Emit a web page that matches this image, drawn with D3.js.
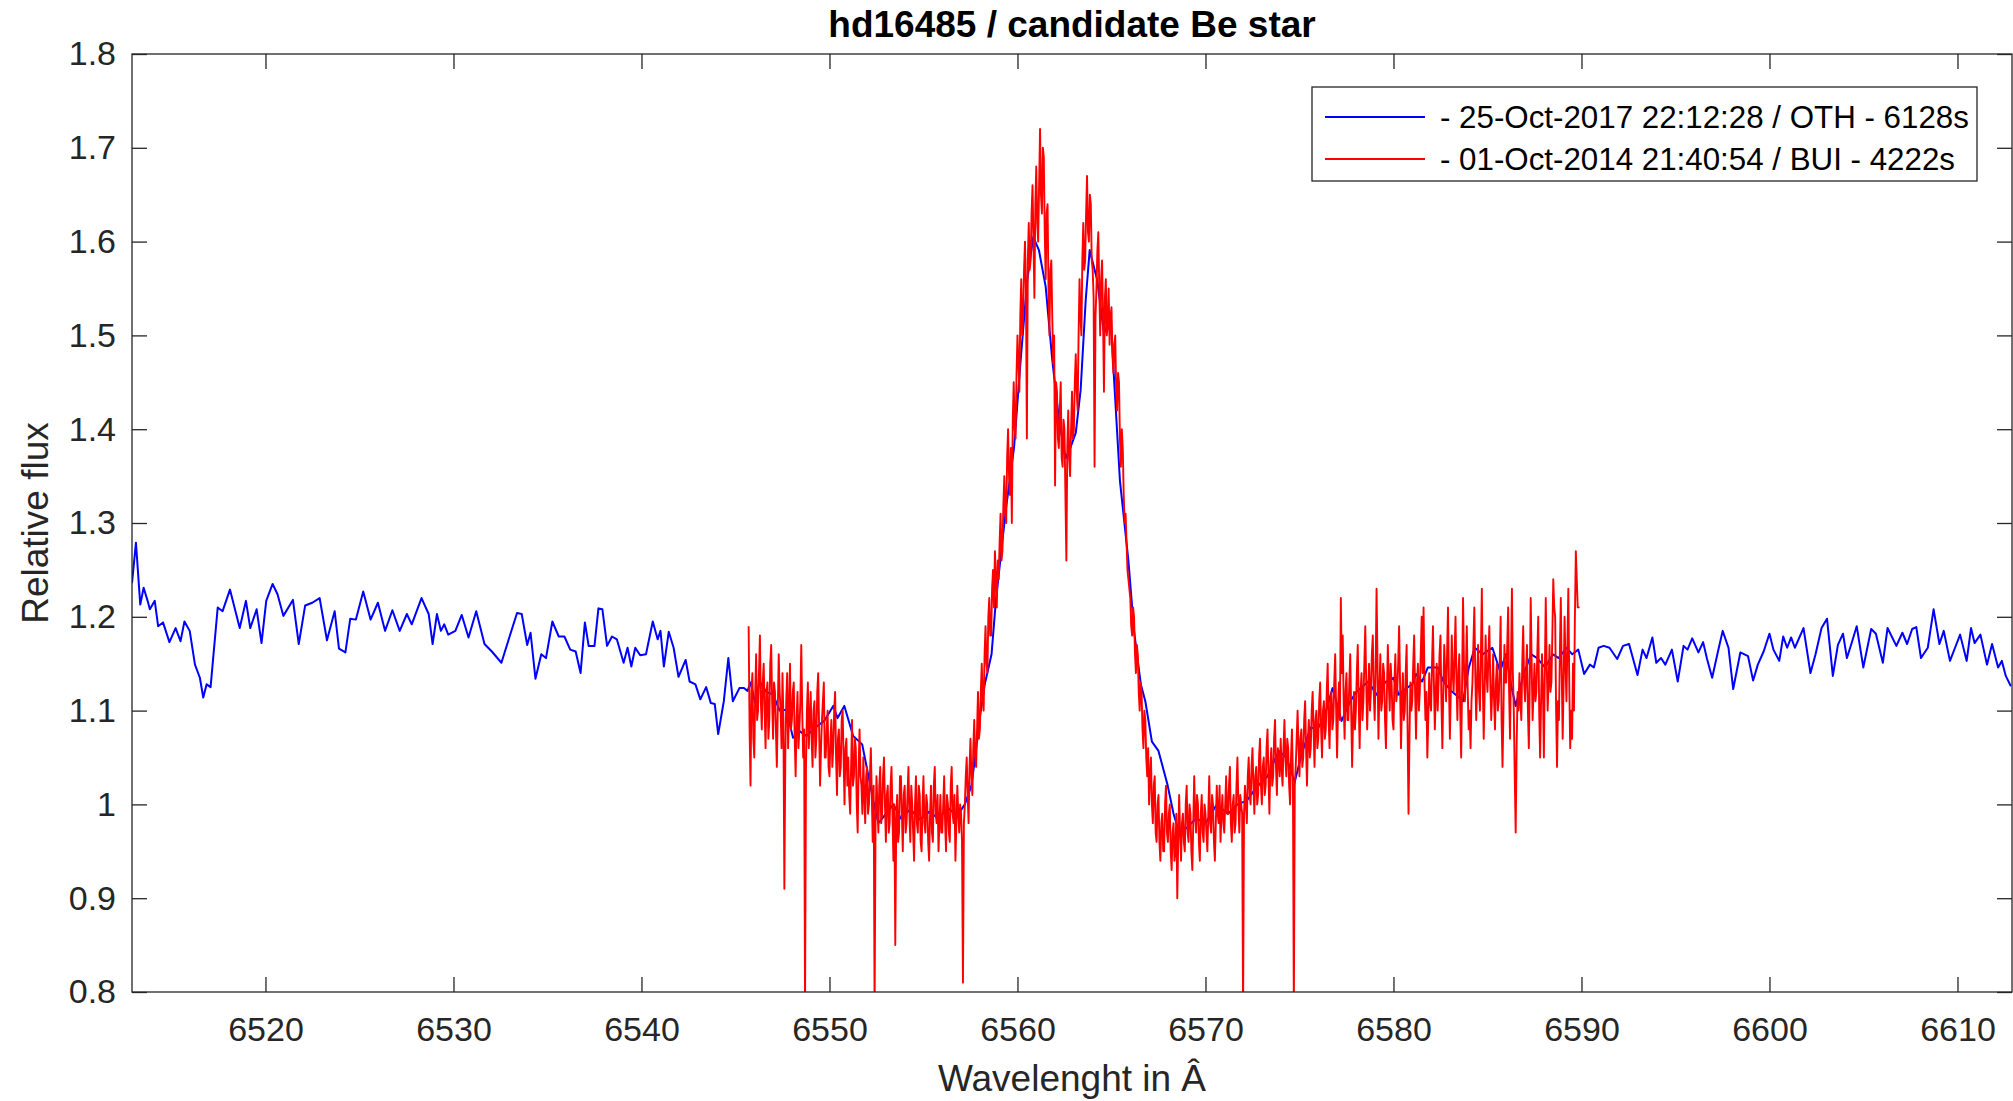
<!DOCTYPE html>
<html>
<head>
<meta charset="utf-8">
<title>hd16485 / candidate Be star</title>
<script src="https://d3js.org/d3.v7.min.js"></script>
<style>
  body { margin: 0; background: #fff; }
  svg { display: block; font-family: "Liberation Sans", Arial, Helvetica, sans-serif; }
</style>
</head>
<body>
<svg width="2013" height="1101"></svg>
<script>

// OTH spectrum (blue), [wavelength, relative flux]
var othSpectrum = [
  [6512.90,1.236],[6513.11,1.279],[6513.34,1.213],[6513.52,1.231],[6513.73,1.217],[6513.85,1.208],[6514.11,1.217],[6514.29,1.190],
  [6514.55,1.194],[6514.89,1.173],[6515.22,1.188],[6515.48,1.174],[6515.69,1.195],[6515.97,1.185],[6516.25,1.149],[6516.51,1.135],
  [6516.69,1.114],[6516.87,1.128],[6517.08,1.125],[6517.46,1.210],[6517.72,1.206],[6518.11,1.229],[6518.63,1.188],[6518.96,1.217],
  [6519.19,1.188],[6519.53,1.208],[6519.79,1.172],[6520.04,1.217],[6520.38,1.235],[6520.64,1.224],[6520.95,1.201],[6521.46,1.218],
  [6521.77,1.171],[6522.11,1.212],[6522.49,1.215],[6522.88,1.220],[6523.27,1.175],[6523.68,1.206],[6523.91,1.166],[6524.25,1.162],
  [6524.51,1.198],[6524.81,1.197],[6525.20,1.227],[6525.59,1.197],[6525.98,1.215],[6526.36,1.185],[6526.75,1.207],[6527.14,1.185],
  [6527.52,1.203],[6527.78,1.192],[6528.30,1.220],[6528.68,1.203],[6528.89,1.171],[6529.12,1.203],[6529.33,1.185],[6529.51,1.192],
  [6529.72,1.181],[6530.10,1.185],[6530.44,1.202],[6530.80,1.178],[6531.21,1.206],[6531.65,1.171],[6532.04,1.163],[6532.55,1.151],
  [6532.94,1.176],[6533.38,1.204],[6533.63,1.203],[6533.92,1.170],[6534.10,1.183],[6534.36,1.134],[6534.67,1.160],[6534.92,1.156],
  [6535.26,1.195],[6535.60,1.179],[6535.90,1.179],[6536.21,1.165],[6536.50,1.163],[6536.76,1.140],[6536.99,1.194],[6537.19,1.169],
  [6537.50,1.169],[6537.71,1.209],[6537.92,1.208],[6538.17,1.169],[6538.43,1.179],[6538.69,1.176],[6539.05,1.151],[6539.26,1.167],
  [6539.46,1.147],[6539.67,1.167],[6539.93,1.159],[6540.24,1.160],[6540.60,1.195],[6540.86,1.176],[6541.01,1.185],[6541.19,1.147],
  [6541.45,1.184],[6541.71,1.167],[6541.97,1.136],[6542.35,1.154],[6542.56,1.131],[6542.87,1.128],[6543.13,1.112],[6543.44,1.125],
  [6543.69,1.108],[6543.90,1.107],[6544.08,1.075],[6544.38,1.110],[6544.62,1.156],[6544.86,1.110],[6545.21,1.124],[6545.45,1.124],
  [6545.64,1.121],[6545.81,1.130],[6546.04,1.108],[6546.28,1.131],[6546.64,1.120],[6547.00,1.117],[6547.35,1.100],[6547.71,1.101],
  [6548.06,1.071],[6548.42,1.078],[6548.77,1.073],[6549.25,1.082],[6549.72,1.089],[6550.20,1.105],[6550.43,1.092],[6550.79,1.105],
  [6551.26,1.073],[6551.74,1.064],[6552.33,1.004],[6552.60,0.980],[6553.00,0.990],[6553.40,1.000],[6553.80,0.985],[6554.30,0.995],
  [6554.80,0.984],[6555.30,0.992],[6555.80,0.985],[6556.30,0.996],[6556.80,0.988],[6557.20,1.000],[6557.55,1.020],[6557.79,1.057],
  [6558.02,1.096],[6558.26,1.128],[6558.62,1.160],[6558.85,1.217],[6559.38,1.314],[6559.82,1.381],[6560.17,1.474],[6560.52,1.559],
  [6560.84,1.605],[6561.14,1.591],[6561.50,1.552],[6561.85,1.474],[6562.21,1.410],[6562.56,1.369],[6562.83,1.381],[6563.10,1.396],
  [6563.36,1.442],[6563.63,1.538],[6563.84,1.591],[6564.24,1.559],[6564.60,1.502],[6564.96,1.520],[6565.13,1.456],[6565.45,1.345],
  [6565.90,1.260],[6566.20,1.185],[6566.56,1.128],[6566.80,1.110],[6567.15,1.067],[6567.50,1.057],[6567.98,1.021],[6568.30,0.990],
  [6568.60,0.970],[6569.00,0.975],[6569.50,0.985],[6570.00,0.980],[6570.60,1.000],[6571.20,0.990],[6571.70,1.000],[6572.20,1.004],
  [6572.70,1.018],[6573.30,1.030],[6573.90,1.057],[6574.30,1.050],[6574.75,1.024],[6575.10,1.053],[6575.60,1.082],[6575.95,1.080],
  [6576.30,1.092],[6576.76,1.124],[6577.24,1.089],[6577.70,1.110],[6578.07,1.121],[6578.66,1.131],[6579.10,1.117],[6579.60,1.131],
  [6580.00,1.135],[6580.27,1.117],[6580.69,1.124],[6581.00,1.128],[6581.20,1.139],[6581.52,1.131],[6581.83,1.146],[6582.35,1.146],
  [6582.66,1.131],[6583.07,1.121],[6583.49,1.114],[6583.70,1.110],[6584.01,1.146],[6584.32,1.167],[6584.74,1.160],[6585.26,1.167],
  [6585.67,1.142],[6585.98,1.160],[6586.29,1.124],[6586.50,1.105],[6586.92,1.139],[6587.33,1.160],[6587.64,1.156],[6588.06,1.146],
  [6588.48,1.160],[6588.79,1.156],[6589.20,1.167],[6589.51,1.160],[6589.83,1.165],[6590.14,1.139],[6590.45,1.149],[6590.66,1.146],
  [6590.91,1.167],[6591.18,1.169],[6591.49,1.167],[6591.90,1.155],[6592.21,1.169],[6592.53,1.171],[6592.98,1.138],[6593.25,1.165],
  [6593.46,1.156],[6593.77,1.178],[6593.98,1.151],[6594.23,1.156],[6594.46,1.149],[6594.81,1.165],[6595.12,1.131],[6595.43,1.169],
  [6595.64,1.165],[6595.89,1.177],[6596.22,1.162],[6596.47,1.173],[6596.68,1.155],[6596.95,1.135],[6597.26,1.163],[6597.51,1.185],
  [6597.82,1.167],[6598.07,1.123],[6598.45,1.162],[6598.86,1.158],[6599.13,1.132],[6599.38,1.149],[6599.69,1.163],[6600.00,1.182],
  [6600.21,1.165],[6600.52,1.153],[6600.73,1.179],[6600.94,1.167],[6601.15,1.178],[6601.35,1.167],[6601.81,1.188],[6602.18,1.140],
  [6602.45,1.160],[6602.77,1.188],[6603.06,1.198],[6603.37,1.137],[6603.64,1.170],[6603.91,1.182],[6604.12,1.156],[6604.37,1.172],
  [6604.64,1.190],[6604.99,1.146],[6605.41,1.187],[6605.66,1.182],[6606.03,1.151],[6606.28,1.188],[6606.75,1.169],[6607.07,1.183],
  [6607.32,1.171],[6607.59,1.187],[6607.81,1.189],[6608.06,1.156],[6608.42,1.167],[6608.73,1.208],[6609.04,1.171],[6609.27,1.185],
  [6609.60,1.153],[6609.87,1.167],[6610.14,1.181],[6610.49,1.153],[6610.72,1.188],[6610.91,1.172],[6611.22,1.181],[6611.57,1.149],
  [6611.84,1.171],[6612.16,1.146],[6612.36,1.153],[6612.57,1.137],[6612.84,1.126]
];

// BUI spectrum (red), one flux value every 0.05 A starting at 6545.7 (one row = 1 A)
var buiStart = 6545.7, buiStep = 0.05;
var buiFlux = [
  1.19, 1.08, 1.02, 1.12, 1.14, 1.07,
  1.05, 1.12, 1.16, 1.09, 1.10, 1.14, 1.18, 1.11, 1.08, 1.13, 1.15, 1.10, 1.06, 1.12, 1.13, 1.07, 1.09, 1.15, 1.17, 1.11,
  1.07, 1.13, 1.12, 1.08, 1.04, 1.10, 1.16, 1.12, 1.10, 1.06, 1.14, 1.09, 0.91, 1.05, 1.11, 1.14, 1.06, 1.10, 1.15, 1.08,
  1.09, 1.12, 1.13, 1.07, 1.03, 1.09, 1.12, 1.06, 1.08, 1.11, 1.17, 1.10, 1.05, 1.08, 0.78, 1.04, 1.10, 1.13, 1.06, 1.09,
  1.12, 1.07, 1.04, 1.10, 1.11, 1.05, 1.07, 1.12, 1.14, 1.08, 1.02, 1.06, 1.09, 1.11, 1.13, 1.05, 1.05, 1.08, 1.10, 1.04,
  1.03, 1.07, 1.09, 1.04, 1.06, 1.10, 1.12, 1.05, 1.01, 1.07, 1.08, 1.03, 1.04, 1.09, 1.10, 1.05, 1.00, 1.06, 1.07, 1.02,
  1.05, 1.01, 0.99, 1.04, 1.09, 1.02, 1.03, 1.07, 1.06, 1.00, 0.97, 1.04, 1.08, 1.03, 1.02, 0.99, 1.05, 1.01, 0.98, 1.03,
  1.04, 0.99, 1.00, 1.03, 1.06, 1.01, 0.96, 1.02, 0.78, 0.98, 1.03, 1.00, 0.97, 1.02, 1.04, 0.98, 0.99, 1.03, 1.05, 1.00,
  0.96, 1.01, 1.02, 0.97, 0.98, 1.02, 1.04, 0.99, 0.94, 1.00, 0.85, 0.98, 1.01, 0.96, 0.97, 1.03, 1.03, 0.99, 0.95, 1.01,
  1.02, 0.97, 0.98, 1.01, 1.04, 0.99, 0.96, 1.02, 1.00, 0.97, 0.94, 1.00, 1.03, 0.98, 0.97, 1.02, 1.01, 0.96, 0.95, 1.00,
  1.03, 0.98, 0.97, 1.01, 1.00, 0.96, 0.94, 0.99, 1.02, 0.97, 0.96, 1.02, 1.04, 0.99, 0.98, 1.01, 0.95, 0.98, 1.01, 0.97,
  0.97, 1.00, 1.03, 0.98, 0.95, 1.01, 1.00, 0.97, 0.96, 1.02, 1.04, 0.99, 0.98, 1.01, 0.94, 0.98, 1.02, 0.99, 0.97, 1.00,
  0.99, 0.96, 0.81, 0.98, 1.00, 1.03, 1.05, 1.01, 0.98, 1.04, 1.07, 1.03, 1.01, 1.06, 1.09, 1.05, 1.04, 1.08, 1.12, 1.07,
  1.08, 1.12, 1.15, 1.11, 1.10, 1.16, 1.19, 1.15, 1.14, 1.20, 1.22, 1.18, 1.18, 1.23, 1.25, 1.21, 1.27, 1.24, 1.21, 1.26,
  1.24, 1.28, 1.31, 1.26, 1.27, 1.32, 1.35, 1.31, 1.30, 1.37, 1.40, 1.35, 1.33, 1.38, 1.30, 1.41, 1.45, 1.40, 1.39, 1.46,
  1.50, 1.47, 1.44, 1.52, 1.56, 1.50, 1.52, 1.57, 1.60, 1.55, 1.39, 1.58, 1.62, 1.57, 1.58, 1.63, 1.66, 1.60, 1.54, 1.64,
  1.68, 1.62, 1.60, 1.66, 1.72, 1.65, 1.63, 1.70, 1.69, 1.61, 1.56, 1.63, 1.64, 1.55, 1.50, 1.57, 1.58, 1.52, 1.47, 1.50,
  1.34, 1.45, 1.44, 1.39, 1.38, 1.42, 1.45, 1.37, 1.36, 1.41, 1.40, 1.33, 1.26, 1.38, 1.42, 1.37, 1.35, 1.40, 1.44, 1.39,
  1.40, 1.45, 1.48, 1.44, 1.42, 1.50, 1.56, 1.52, 1.50, 1.58, 1.62, 1.57, 1.58, 1.63, 1.67, 1.61, 1.60, 1.65, 1.64, 1.58,
  1.57, 1.54, 1.36, 1.52, 1.55, 1.59, 1.61, 1.55, 1.50, 1.56, 1.58, 1.52, 1.44, 1.54, 1.56, 1.50, 1.51, 1.55, 1.49, 1.52,
  1.53, 1.48, 1.46, 1.49, 1.50, 1.44, 1.42, 1.46, 1.45, 1.39, 1.36, 1.40, 1.38, 1.33, 1.30, 1.31, 1.28, 1.25, 1.24, 1.23,
  1.22, 1.19, 1.18, 1.21, 1.20, 1.16, 1.14, 1.17, 1.16, 1.12, 1.10, 1.13, 1.12, 1.08, 1.06, 1.10, 1.09, 1.05, 1.03, 1.06,
  1.00, 1.03, 1.05, 1.00, 0.98, 1.02, 1.03, 0.97, 0.96, 1.00, 1.01, 0.96, 0.94, 0.98, 0.99, 0.95, 0.95, 1.00, 1.02, 0.97,
  0.96, 0.99, 1.00, 0.95, 0.93, 0.97, 0.98, 0.94, 0.95, 0.99, 0.90, 0.96, 1.01, 0.97, 0.94, 0.98, 0.99, 0.96, 0.95, 1.00,
  1.02, 0.97, 0.96, 1.00, 0.99, 0.95, 0.93, 0.98, 1.03, 0.99, 0.97, 1.01, 1.00, 0.96, 0.94, 0.99, 1.01, 0.97, 0.96, 1.00,
  0.99, 0.97, 0.95, 0.99, 1.03, 0.98, 0.97, 1.01, 1.00, 0.96, 0.94, 0.98, 1.02, 0.99, 0.98, 1.02, 0.96, 0.99, 1.01, 0.98,
  0.97, 1.00, 1.03, 0.99, 0.99, 1.02, 1.04, 0.98, 0.96, 1.00, 1.01, 0.97, 0.98, 1.02, 1.05, 1.00, 0.97, 1.01, 1.00, 0.99,
  0.78, 0.99, 1.02, 1.00, 0.98, 1.03, 1.05, 1.01, 1.00, 1.04, 1.06, 1.02, 0.99, 1.03, 1.04, 1.00, 1.01, 1.05, 1.07, 1.02,
  1.00, 1.04, 1.05, 1.01, 1.02, 1.06, 1.08, 1.03, 0.99, 1.04, 1.06, 1.02, 1.03, 1.07, 1.09, 1.04, 1.01, 1.06, 1.05, 1.03,
  1.07, 1.04, 1.02, 1.06, 1.09, 1.05, 1.03, 1.07, 1.06, 1.02, 1.00, 1.05, 1.08, 1.03, 0.78, 1.02, 1.04, 1.07, 1.10, 1.06,
  1.03, 1.07, 1.08, 1.04, 1.05, 1.09, 1.11, 1.06, 1.02, 1.07, 1.09, 1.05, 1.06, 1.10, 1.12, 1.08, 1.04, 1.09, 1.10, 1.06,
  1.07, 1.11, 1.13, 1.08, 1.05, 1.10, 1.11, 1.07, 1.08, 1.12, 1.15, 1.09, 1.06, 1.11, 1.12, 1.08, 1.09, 1.13, 1.16, 1.10,
  1.05, 1.10, 1.13, 1.09, 1.22, 1.14, 1.18, 1.11, 1.07, 1.12, 1.14, 1.09, 1.09, 1.13, 1.16, 1.10, 1.04, 1.09, 1.12, 1.08,
  1.10, 1.14, 1.17, 1.11, 1.06, 1.12, 1.14, 1.09, 1.11, 1.15, 1.19, 1.13, 1.08, 1.12, 1.15, 1.10, 1.12, 1.16, 1.18, 1.12,
  1.09, 1.14, 1.23, 1.15, 1.07, 1.12, 1.16, 1.10, 1.11, 1.15, 1.14, 1.09, 1.06, 1.12, 1.17, 1.13, 1.10, 1.15, 1.13, 1.09,
  1.08, 1.13, 1.16, 1.11, 1.12, 1.15, 1.19, 1.13, 1.06, 1.11, 1.14, 1.09, 1.10, 1.14, 1.17, 1.08, 0.99, 1.07, 1.13, 1.10,
  1.11, 1.15, 1.18, 1.12, 1.07, 1.13, 1.15, 1.10, 1.12, 1.16, 1.20, 1.14, 1.21, 1.13, 1.09, 1.12, 1.05, 1.09, 1.14, 1.11,
  1.10, 1.15, 1.19, 1.13, 1.08, 1.12, 1.15, 1.10, 1.13, 1.16, 1.18, 1.11, 1.06, 1.12, 1.17, 1.14, 1.11, 1.16, 1.21, 1.13,
  1.07, 1.12, 1.18, 1.14, 1.12, 1.16, 1.20, 1.13, 1.09, 1.14, 1.16, 1.10, 1.05, 1.13, 1.22, 1.15, 1.11, 1.14, 1.19, 1.12,
  1.08, 1.10, 1.06, 1.11, 1.13, 1.17, 1.21, 1.14, 1.09, 1.13, 1.17, 1.12, 1.10, 1.16, 1.23, 1.13, 1.07, 1.12, 1.18, 1.14,
  1.12, 1.16, 1.19, 1.13, 1.09, 1.12, 1.16, 1.11, 1.08, 1.13, 1.15, 1.10, 1.11, 1.15, 1.20, 1.09, 1.04, 1.10, 1.17, 1.13,
  1.13, 1.17, 1.21, 1.12, 1.07, 1.15, 1.23, 1.14, 1.10, 1.03, 0.97, 1.06, 1.12, 1.10, 1.14, 1.11, 1.09, 1.15, 1.19, 1.13,
  1.11, 1.14, 1.17, 1.10, 1.06, 1.13, 1.22, 1.15, 1.09, 1.12, 1.15, 1.11, 1.12, 1.16, 1.20, 1.10, 1.05, 1.11, 1.16, 1.12,
  1.05, 1.14, 1.22, 1.15, 1.10, 1.13, 1.17, 1.12, 1.13, 1.18, 1.24, 1.21, 1.20, 1.10, 1.04, 1.11, 1.09, 1.16, 1.22, 1.14,
  1.07, 1.13, 1.20, 1.15, 1.11, 1.17, 1.23, 1.13, 1.06, 1.10, 1.07, 1.15, 1.10, 1.20, 1.27, 1.24, 1.21, 1.21, 1.21
];

var xTicks = [6520, 6530, 6540, 6550, 6560, 6570, 6580, 6590, 6600, 6610];
var yTicks = [0.8, 0.9, 1, 1.1, 1.2, 1.3, 1.4, 1.5, 1.6, 1.7, 1.8];
var xDomain = [6512.9, 6612.9];
var yDomain = [0.8, 1.8];

var seriesNames = ["- 25-Oct-2017 22:12:28 / OTH - 6128s", "- 01-Oct-2014 21:40:54 / BUI - 4222s"];
var seriesColors = ["#0000ff", "#ff0000"];

var svg = d3.select("svg");
var margin = {top: 54, right: 1, left: 132, bottom: 109};
var width = 2013 - margin.left - margin.right,
    height = 1101 - margin.top - margin.bottom;
var axisColor = "#262626";

var x = d3.scaleLinear().domain(xDomain).range([0, width]);
var y = d3.scaleLinear().domain(yDomain).range([height, 0]);

var g = svg.append("g").attr("transform", "translate(" + margin.left + "," + margin.top + ")");

g.append("clipPath").attr("id", "plotclip")
  .append("rect").attr("width", width).attr("height", height);

var buiSpectrum = buiFlux.map(function(v, i) { return [buiStart + i * buiStep, v]; });

var line = d3.line()
    .x(function(d) { return x(d[0]); })
    .y(function(d) { return y(d[1]); });

var lines = g.append("g").attr("clip-path", "url(#plotclip)");
lines.append("path")
    .datum(othSpectrum)
    .attr("fill", "none")
    .attr("stroke", seriesColors[0])
    .attr("stroke-width", 2)
    .attr("stroke-linejoin", "round")
    .attr("d", line);
lines.append("path")
    .datum(buiSpectrum)
    .attr("fill", "none")
    .attr("stroke", seriesColors[1])
    .attr("stroke-width", 1.9)
    .attr("stroke-linejoin", "round")
    .attr("d", line);

// axes, ticks pointing inwards on all four sides
var tick = 15;
function styleAxis(sel) {
  sel.select(".domain").remove();
  sel.selectAll("line").attr("stroke", axisColor).attr("stroke-width", 1.3);
  sel.selectAll("text").attr("fill", axisColor);
  sel.attr("font-size", 34).attr("font-family", null);
}

g.append("g")
    .attr("transform", "translate(0," + height + ")")
    .call(d3.axisBottom(x).tickValues(xTicks).tickSize(-tick).tickPadding(25).tickFormat(d3.format("d")))
    .call(styleAxis);
g.append("g")
    .call(d3.axisTop(x).tickValues(xTicks).tickSize(-tick).tickFormat(""))
    .call(styleAxis);
g.append("g")
    .call(d3.axisLeft(y).tickValues(yTicks).tickSize(-tick).tickPadding(16).tickFormat(function(d) { return String(d); }))
    .call(styleAxis);
g.append("g")
    .attr("transform", "translate(" + width + ",0)")
    .call(d3.axisRight(y).tickValues(yTicks).tickSize(-tick).tickFormat(""))
    .call(styleAxis);

g.append("rect")
    .attr("width", width)
    .attr("height", height)
    .attr("fill", "none")
    .attr("stroke", axisColor)
    .attr("stroke-width", 1.3);

// title and labels
svg.append("text")
    .attr("x", margin.left + width / 2)
    .attr("y", 37)
    .attr("text-anchor", "middle")
    .attr("font-size", 37)
    .attr("font-weight", "bold")
    .attr("fill", "#000")
    .text("hd16485 / candidate Be star");

svg.append("text")
    .attr("x", margin.left + width / 2)
    .attr("y", 1091)
    .attr("text-anchor", "middle")
    .attr("font-size", 37)
    .attr("fill", axisColor)
    .text("Wavelenght in Â");

svg.append("text")
    .attr("transform", "translate(48," + (margin.top + height / 2) + ") rotate(-90)")
    .attr("text-anchor", "middle")
    .attr("font-size", 37)
    .attr("fill", axisColor)
    .text("Relative flux");

// legend
var legend = svg.append("g").attr("transform", "translate(1312,87)");
legend.append("rect")
    .attr("width", 665)
    .attr("height", 94)
    .attr("fill", "#fff")
    .attr("stroke", axisColor)
    .attr("stroke-width", 1.3);
var items = legend.selectAll(".item")
    .data(seriesNames)
    .enter().append("g")
    .attr("class", "item")
    .attr("transform", function(d, i) { return "translate(0," + (30 + i * 42) + ")"; });
items.append("line")
    .attr("x1", 13).attr("x2", 113)
    .attr("stroke", function(d, i) { return seriesColors[i]; })
    .attr("stroke-width", 1.9);
items.append("text")
    .attr("x", 128)
    .attr("dy", "0.36em")
    .attr("font-size", 31.3)
    .attr("fill", "#000")
    .text(function(d) { return d; });

</script>
</body>
</html>
